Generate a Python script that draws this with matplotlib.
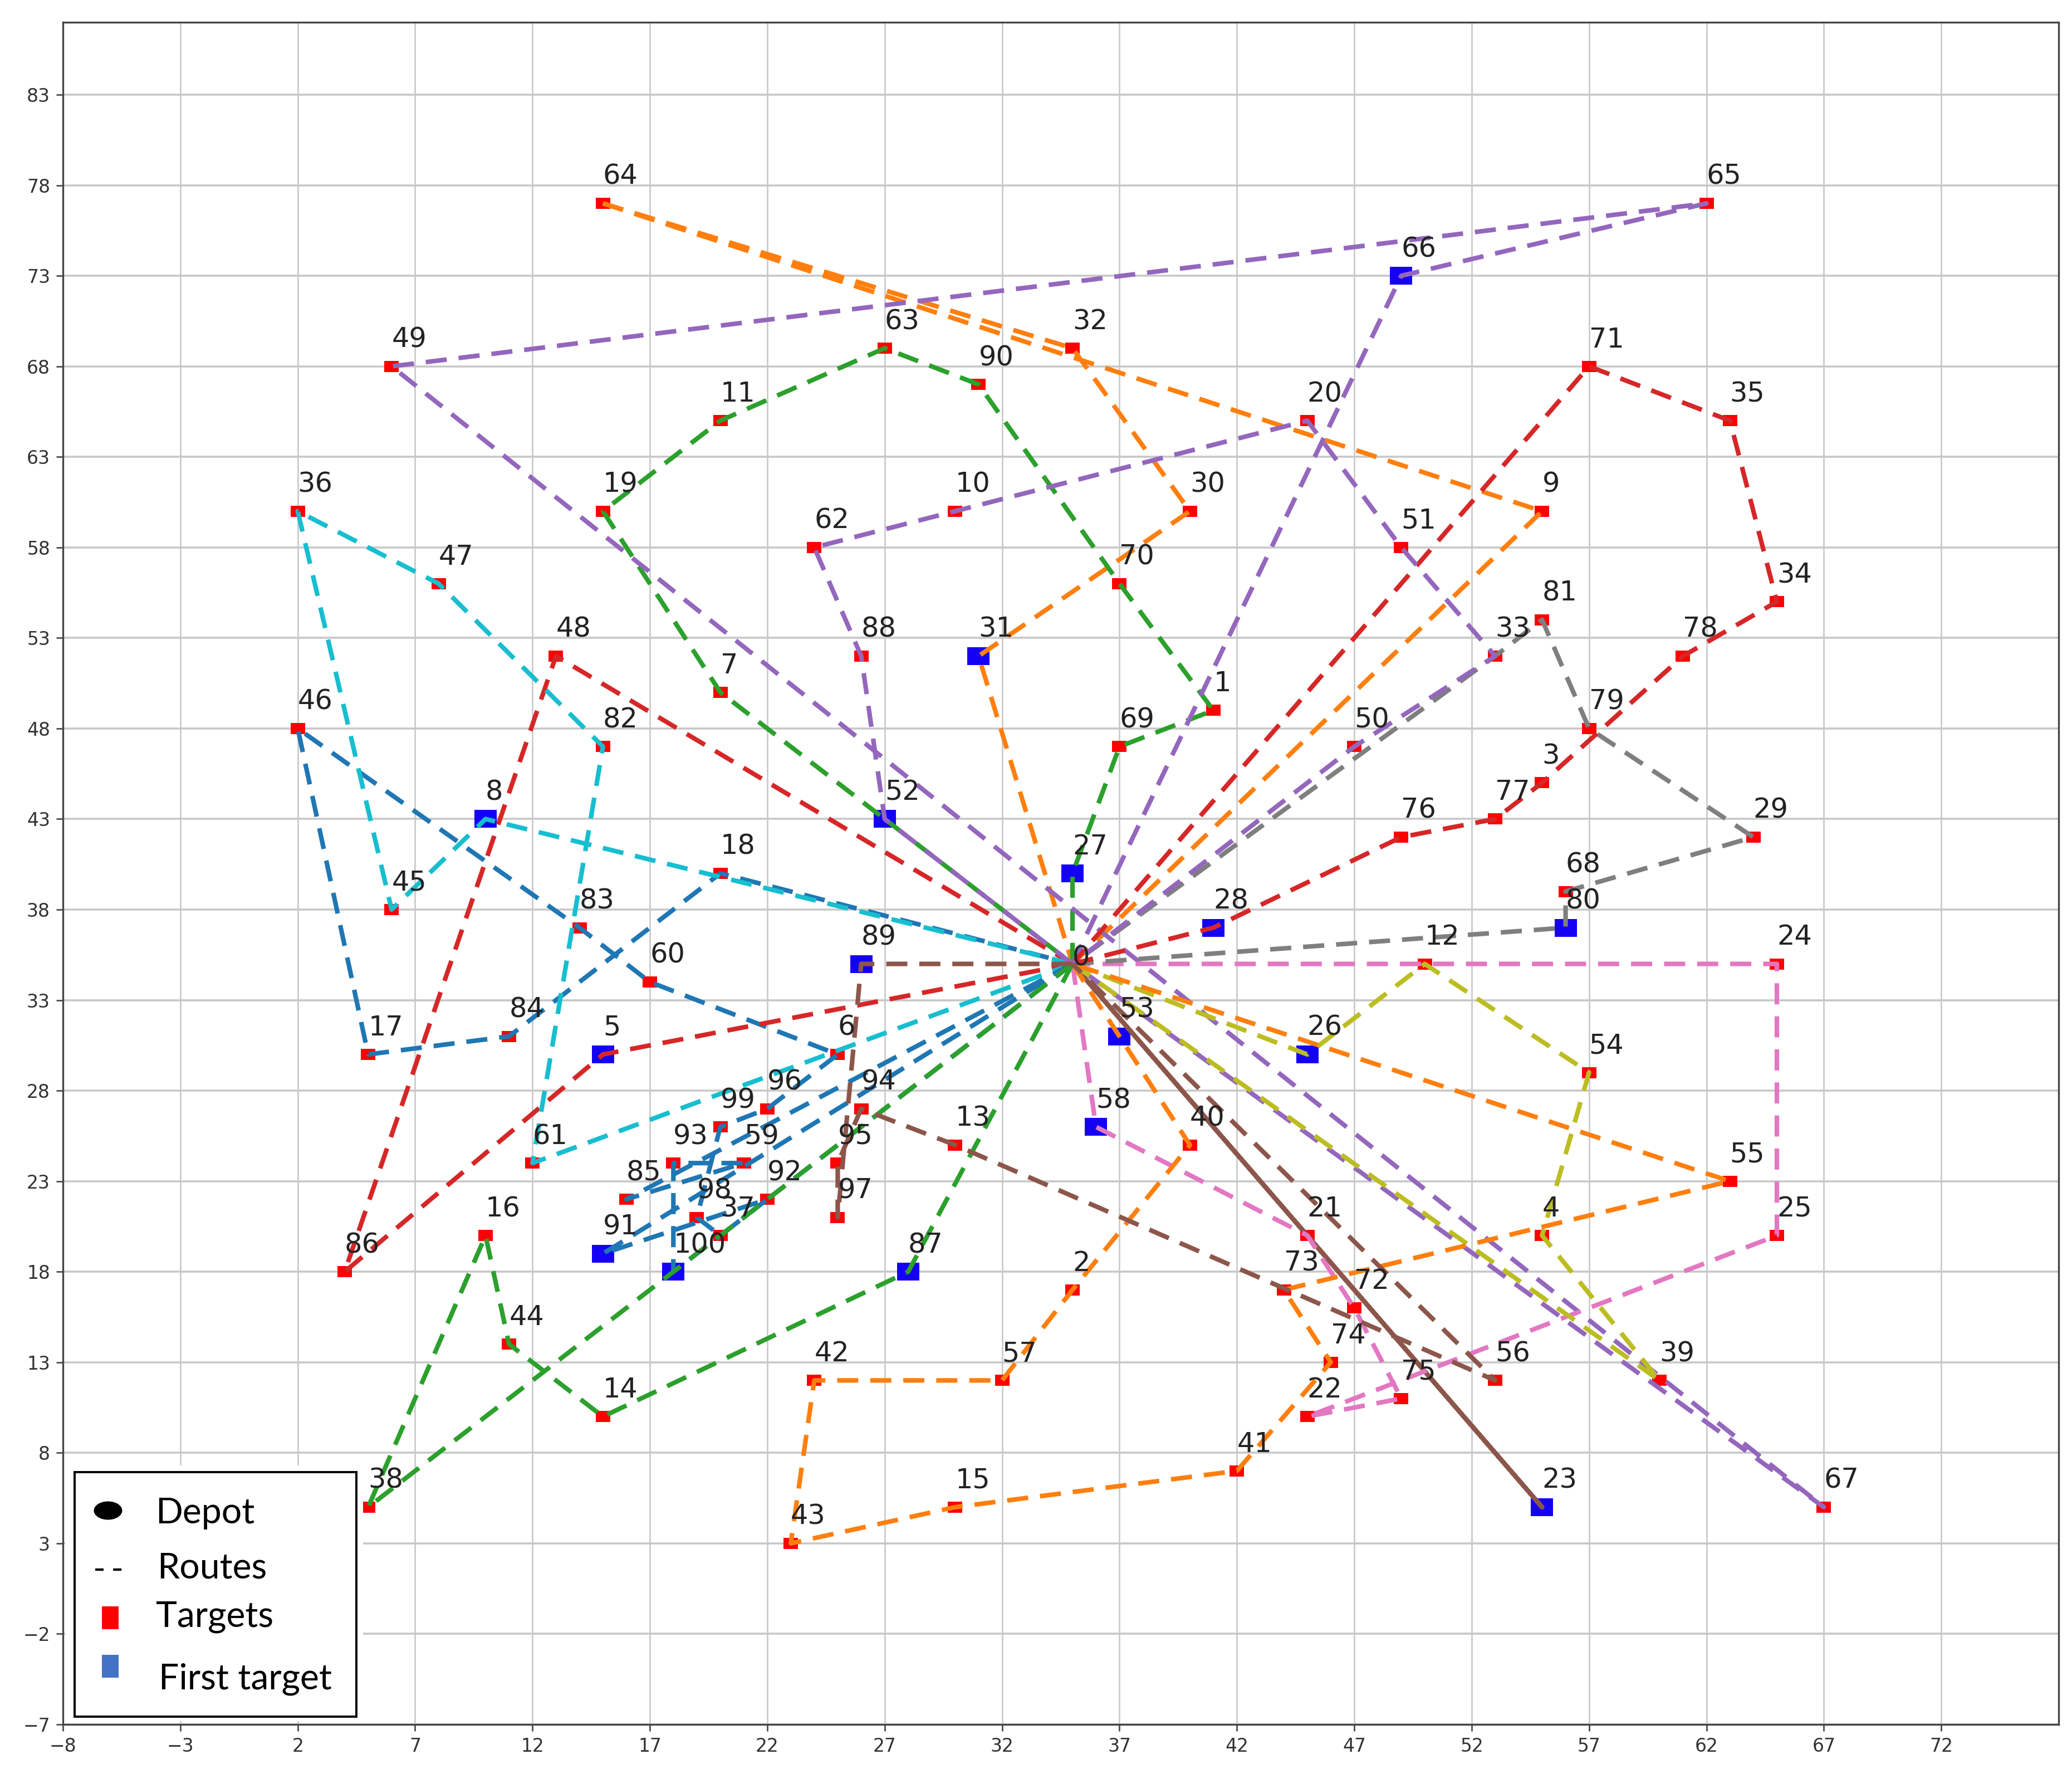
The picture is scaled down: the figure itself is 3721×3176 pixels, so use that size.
import matplotlib
matplotlib.use("Agg")
import matplotlib.pyplot as plt
from matplotlib.markers import MarkerStyle
from matplotlib.patches import Rectangle, Ellipse
from matplotlib.lines import Line2D
from matplotlib.transforms import Affine2D
import numpy as np

# node coordinates, index = target number (0 is the depot)
xs = [35, 41, 35, 55, 55, 15, 25, 20, 10, 55, 30, 20, 50, 30, 15, 30, 10, 5, 20, 15, 45,
      45, 45, 55, 65, 65, 45, 35, 41, 64, 40, 31, 35, 53, 65, 63, 2, 20, 5, 60, 40,
      42, 24, 23, 11, 6, 2, 8, 13, 6, 47, 49, 27, 37, 57, 63, 53, 32, 36, 21, 17,
      12, 24, 27, 15, 62, 49, 67, 56, 37, 37, 57, 47, 44, 46, 49, 49, 53, 61, 57, 56,
      55, 15, 14, 11, 16, 4, 28, 26, 26, 31, 15, 22, 18, 26, 25, 22, 25, 19, 20, 18]
ys = [35, 49, 17, 45, 20, 30, 30, 50, 43, 60, 60, 65, 35, 25, 10, 5, 20, 30, 40, 60, 65,
      20, 10, 5, 35, 20, 30, 40, 37, 42, 60, 52, 69, 52, 55, 65, 60, 20, 5, 12, 25,
      7, 12, 3, 14, 38, 48, 56, 52, 68, 47, 58, 43, 31, 29, 23, 12, 12, 26, 24, 34,
      24, 58, 69, 77, 77, 73, 5, 39, 47, 56, 68, 16, 17, 13, 11, 42, 43, 52, 48, 37,
      54, 47, 37, 31, 22, 18, 18, 52, 35, 67, 19, 22, 24, 27, 24, 27, 21, 21, 26, 18]

# routes and their colours, drawn in this order
# the route through 64 is split so both lines leaving 64 start their dashes together
routes = [
    [0, 91, 92, 37, 98, 99, 96, 6, 60, 83, 46, 17, 84, 18, 0],
    [64, 32, 30, 31, 0],
    [64, 9, 0],
    [0, 27, 69, 1, 70, 90, 63, 11, 19, 7, 52, 0],
    [0, 5, 86, 48, 0],
    [0, 66, 65, 49, 67, 0],
    [0, 23, 0],
    [0, 58, 21, 72, 75, 22, 25, 24, 0],
    [0, 80, 68, 29, 79, 81, 33, 0],
    [0, 26, 12, 54, 4, 39, 0],
    [0, 61, 82, 47, 36, 45, 8, 0],
    [0, 100, 93, 59, 85, 0],
    [0, 53, 40, 2, 57, 42, 43, 15, 41, 74, 73, 55, 0],
    [0, 87, 14, 44, 16, 38, 0],
    [0, 28, 76, 77, 3, 78, 34, 35, 71, 0],
    [0, 52, 88, 62, 10, 20, 51, 33, 50, 0],
    [0, 89, 97, 95, 94, 13, 56, 0],
]
route_colors = ["C0", "C1", "C1", "C2", "C3", "C4", "C5", "C6", "C7", "C8", "C9",
                "C0", "C1", "C2", "C3", "C4", "C5"]
first_targets = [91, 31, 27, 5, 66, 23, 58, 80, 26, 8, 100, 53, 87, 28, 52, 89]
legend_labels = ["Depot", "Routes", "Targets", "First target"]

W, H = 3721, 3176
DPI = 237.3
fig = plt.figure(figsize=(W / DPI, H / DPI), dpi=DPI)
ax = fig.add_axes([113 / W, 1 - 3096 / H, (3697 - 113) / W, (3096 - 40) / H])


def fx(px):
    return px / W


def fy(py):
    return 1 - py / H


# the picture is stretched sideways so the squares are not quite square
small = MarkerStyle("s", transform=Affine2D().scale(1.3, 1))
big = MarkerStyle("s", transform=Affine2D().scale(1.25, 1))

others = [i for i in range(1, len(xs)) if i not in first_targets]
ax.plot([xs[i] for i in others], [ys[i] for i in others], ls="none", marker=small,
        ms=6.1, mew=0, color="red", zorder=1.5)
ax.plot([xs[i] for i in first_targets], [ys[i] for i in first_targets], ls="none",
        marker=big, ms=9.7, mew=0, color="#1400f5", zorder=1.5)

for r, c in zip(routes, route_colors):
    if r[0] == r[-1] and len(r) == 3:
        # out and back on the same line, the dashes fill each other in
        ax.plot([xs[i] for i in r], [ys[i] for i in r], ls="-", lw=2.5, color=c)
    else:
        ax.plot([xs[i] for i in r], [ys[i] for i in r], ls="--", lw=2.5, dashes=(4.6, 2.6), color=c)

for i in range(len(xs)):
    ax.text(xs[i], ys[i] + 1.05 if i else ys[i] - 0.1, str(i), fontsize=15, color="#222222", va="baseline")

ax.set_xlim(-8, 77)
ax.set_ylim(-7, 87)
ax.set_xticks(np.arange(-8, 73, 5))
ax.set_yticks(np.arange(-7, 84, 5))
ax.tick_params(labelsize=10, labelcolor="#333333", color="#444444")
ax.grid(True, axis="x", color="#c8c8c8", lw=0.8)
ax.grid(True, axis="y", color="#c8c8c8", lw=1.1)
ax.set_axisbelow(True)
for s in ax.spines.values():
    s.set_color("#444444")
    s.set_linewidth(1)

# pasted legend box
fig.add_artist(Rectangle((fx(117), fy(3090)), (652 - 117) / W, (3090 - 2631) / H, transform=fig.transFigure,
                         fc="white", ec="none", zorder=5))
fig.add_artist(Rectangle((fx(134), fy(3082)), (640 - 134) / W, (3082 - 2643) / H, transform=fig.transFigure,
                         fc="white", ec="black", lw=1.2, zorder=6))
fig.add_artist(Ellipse((fx(194), fy(2712)), 51 / W, 33 / H, transform=fig.transFigure,
                       fc="black", ec="none", zorder=7))
fig.add_artist(Line2D([fx(171), fx(219)], [fy(2818), fy(2818)], transform=fig.transFigure, color="black",
                      lw=1.3, dashes=(3.5, 4), zorder=7))
fig.add_artist(Rectangle((fx(183), fy(2925)), 30 / W, 41 / H, transform=fig.transFigure,
                         fc="red", ec="none", zorder=7))
fig.add_artist(Rectangle((fx(183), fy(3012)), 30 / W, 41 / H, transform=fig.transFigure,
                         fc="#4472C4", ec="none", zorder=7))
label_x = [279, 282, 280, 285]
label_y = [2735, 2834, 2921, 3033]
for lab, px, py in zip(legend_labels, label_x, label_y):
    fig.text(fx(px), fy(py), lab, family="Lato", fontsize=19.5, color="black", va="baseline", zorder=8)

fig.savefig("out.png", dpi=DPI)
